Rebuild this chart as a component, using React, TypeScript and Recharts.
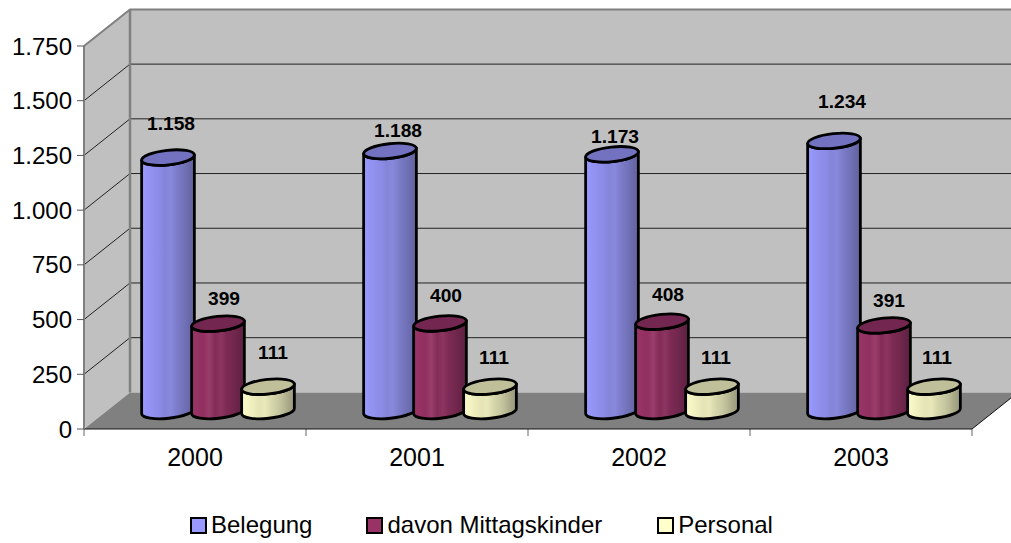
import React from "react";
import { BarChart, Bar, XAxis, YAxis, Legend, LabelList, usePlotArea } from "recharts";

const categories = ["2000", "2001", "2002", "2003"];
const belegung = [1158, 1188, 1173, 1234];
const mittagskinder = [399, 400, 408, 391];
const personal = [111, 111, 111, 111];
const yTicks = [0, 250, 500, 750, 1000, 1250, 1500, 1750];

const rows = categories.map((year, i) => ({
  year,
  belegung: belegung[i],
  mittagskinder: mittagskinder[i],
  personal: personal[i],
}));

// 3D projection of the plot box
const DEPTH_X = 46;
const DEPTH_Y = 36.6;
const BAR_SHIFT_X = 23;
const BAR_SHIFT_Y = 18;
const LABEL_SHIFT_Y = 19;
const RX = 26.5;
const RY = 7.3;
const TILT = -6;

// hand-placed data labels, relative to the top of each cylinder
const belegungNudge = [[3, -33], [8, -19], [3, -17], [8, -38]];
const mittagNudge = [[6, -24], [6, -27], [6, -26], [5, -24]];
const personalNudge = [[5, -33], [4, -28], [4, -28], [3, -28]];

const fmt = (v: number) => String(v).replace(/\B(?=(\d{3})+$)/g, ".");
const FONT = '"Liberation Sans", Arial, sans-serif';

// streaked horizontal shading of the cylinder bodies
const blueStops = ["#9c9cff", "#9494f6", "#9090ec", "#8c8ce8", "#8484d8", "#8888dc", "#7c7cca", "#7474bc", "#6a6aac", "#62629c"];
const maroonStops = ["#9c3468", "#963265", "#902f60", "#9a3e6c", "#842c58", "#8c3560", "#7c2a54", "#74284e", "#682448", "#5c2040"];
const creamStops = ["#fbfbc9", "#f4f4c4", "#ececbd", "#e4e4b6", "#e8e8ba", "#d8d8ad", "#ccccA4", "#bcbc98", "#a8a888", "#96967a"];

function Stops({ colors }: { colors: string[] }) {
  return (
    <>
      {colors.map((c, i) => (
        <stop key={i} offset={i / (colors.length - 1)} stopColor={c} />
      ))}
    </>
  );
}

function Walls() {
  const p = usePlotArea();
  if (!p) return null;
  const yOf = (v: number) => p.y + p.height * (1 - v / 1750);
  const L = p.x;
  const R = p.x + p.width;
  const T = p.y;
  const B = p.y + p.height;
  const step = p.width / categories.length;
  const gray = "#808080";
  return (
    <g>
      <polygon points={`${L},${T} ${L + DEPTH_X},${T - DEPTH_Y} ${L + DEPTH_X},${B - DEPTH_Y} ${L},${B}`} fill="#c0c0c0" />
      <rect x={L + DEPTH_X} y={T - DEPTH_Y} width={p.width} height={p.height} fill="#c0c0c0" />
      <polygon points={`${L},${B} ${L + DEPTH_X},${B - DEPTH_Y} ${R + DEPTH_X},${B - DEPTH_Y} ${R},${B}`} fill={gray} />
      {yTicks.slice(1, -1).map((v) => (
        <g key={v} stroke="#222" strokeWidth={1}>
          <line x1={L} y1={yOf(v)} x2={L + DEPTH_X} y2={yOf(v) - DEPTH_Y} />
          <line x1={L + DEPTH_X} y1={yOf(v) - DEPTH_Y} x2={R + DEPTH_X} y2={yOf(v) - DEPTH_Y} />
        </g>
      ))}
      <polyline
        points={`${L},${T} ${L + DEPTH_X},${T - DEPTH_Y} ${R + DEPTH_X},${T - DEPTH_Y}`}
        fill="none"
        stroke={gray}
        strokeWidth={2}
      />
      <line x1={L + DEPTH_X} y1={T - DEPTH_Y} x2={L + DEPTH_X} y2={B - DEPTH_Y} stroke={gray} strokeWidth={2.5} />
      <line x1={R} y1={B} x2={R + DEPTH_X} y2={B - DEPTH_Y} stroke="#111" strokeWidth={1} />
      {categories.concat("").map((_, i) => (
        <line key={i} x1={L + i * step} y1={B} x2={L + i * step} y2={B + 7} stroke="#666" strokeWidth={1} />
      ))}
      <defs>
        <linearGradient id="gBlue" x1="0" x2="1" y1="0" y2="0">
          <Stops colors={blueStops} />
        </linearGradient>
        <linearGradient id="gMaroon" x1="0" x2="1" y1="0" y2="0">
          <Stops colors={maroonStops} />
        </linearGradient>
        <linearGradient id="gCream" x1="0" x2="1" y1="0" y2="0">
          <Stops colors={creamStops} />
        </linearGradient>
      </defs>
    </g>
  );
}

function cylinder(gradient: string, topFill: string) {
  return function Cylinder(props: any) {
    const { x, y, width, height } = props;
    const cx = x + width / 2 + BAR_SHIFT_X;
    const topY = y - BAR_SHIFT_Y;
    const baseY = y + height - BAR_SHIFT_Y;
    const rad = (TILT * Math.PI) / 180;
    const ox = RX * Math.cos(rad);
    const oy = RX * Math.sin(rad);
    const body =
      `M${cx - ox},${topY - oy} L${cx - ox},${baseY - oy} ` +
      `A${RX},${RY} ${TILT} 0 0 ${cx + ox},${baseY + oy} ` +
      `L${cx + ox},${topY + oy} ` +
      `A${RX},${RY} ${TILT} 0 1 ${cx - ox},${topY - oy} Z`;
    return (
      <g stroke="#000" strokeWidth={2.8} strokeLinejoin="round">
        <path d={body} fill={`url(#${gradient})`} />
        <ellipse cx={cx} cy={topY} rx={RX} ry={RY} transform={`rotate(${TILT} ${cx} ${topY})`} fill={topFill} />
      </g>
    );
  };
}

function dataLabel(nudge: number[][]) {
  return function DataLabel(props: any) {
    const { x, y, width, value, index } = props;
    const [dx, dy] = nudge[index];
    return (
      <text
        x={x + width / 2 + BAR_SHIFT_X + dx}
        y={y - LABEL_SHIFT_Y + dy}
        textAnchor="middle"
        dominantBaseline="central"
        fontFamily={FONT}
        fontSize={19.2}
        fontWeight="bold"
        fill="#000"
      >
        {fmt(value)}
      </text>
    );
  };
}

function LegendBox({ payload }: any) {
  const gaps = [54, 55, 0];
  return (
    <div style={{ display: "flex", alignItems: "center", fontFamily: FONT, fontSize: 24, color: "#000", lineHeight: "28px", whiteSpace: "nowrap" }}>
      {(payload || []).map((item: any, i: number) => (
        <div key={item.value} style={{ display: "flex", alignItems: "center", marginRight: gaps[i] }}>
          <span style={{ display: "inline-block", width: 13, height: 13, border: "2px solid #000", background: item.color, marginRight: 4 }} />
          <span>{item.value}</span>
        </div>
      ))}
    </div>
  );
}

export default function App() {
  return (
    <div style={{ position: "absolute", left: 0, top: 0, width: 1011, height: 543, background: "#fff" }}>
      <BarChart
        width={1011}
        height={543}
        data={rows}
        barSize={50}
        barGap={0}
        margin={{ top: 46, right: 39, bottom: 54, left: 0 }}
      >
        <Walls />
        <XAxis
          dataKey="year"
          height={60}
          tickLine={false}
          axisLine={{ stroke: "#111", strokeWidth: 1 }}
          tick={{ fontFamily: FONT, fontSize: 25, fill: "#000" }}
          tickMargin={13}
        />
        <YAxis
          width={84}
          domain={[0, 1750]}
          ticks={yTicks}
          interval={0}
          tickFormatter={fmt}
          tickSize={7}
          tickMargin={5}
          axisLine={{ stroke: "#808080", strokeWidth: 2 }}
          tickLine={{ stroke: "#555", strokeWidth: 1 }}
          tick={{ fontFamily: FONT, fontSize: 24, fill: "#000" }}
        />
        <Legend
          layout="horizontal"
          align="center"
          verticalAlign="middle"
          itemSorter={null}
          content={<LegendBox />}
          wrapperStyle={{ position: "absolute", left: 190, top: 511, width: 640, height: 28 }}
        />
        <Bar dataKey="belegung" name="Belegung" fill="#9999ff" isAnimationActive={false} shape={cylinder("gBlue", "#7272c0")}>
          <LabelList dataKey="belegung" content={dataLabel(belegungNudge)} />
        </Bar>
        <Bar dataKey="mittagskinder" name="davon Mittagskinder" fill="#993366" isAnimationActive={false} shape={cylinder("gMaroon", "#732650")}>
          <LabelList dataKey="mittagskinder" content={dataLabel(mittagNudge)} />
        </Bar>
        <Bar dataKey="personal" name="Personal" fill="#ffffcc" isAnimationActive={false} shape={cylinder("gCream", "#bfbf99")}>
          <LabelList dataKey="personal" content={dataLabel(personalNudge)} />
        </Bar>
      </BarChart>
    </div>
  );
}
